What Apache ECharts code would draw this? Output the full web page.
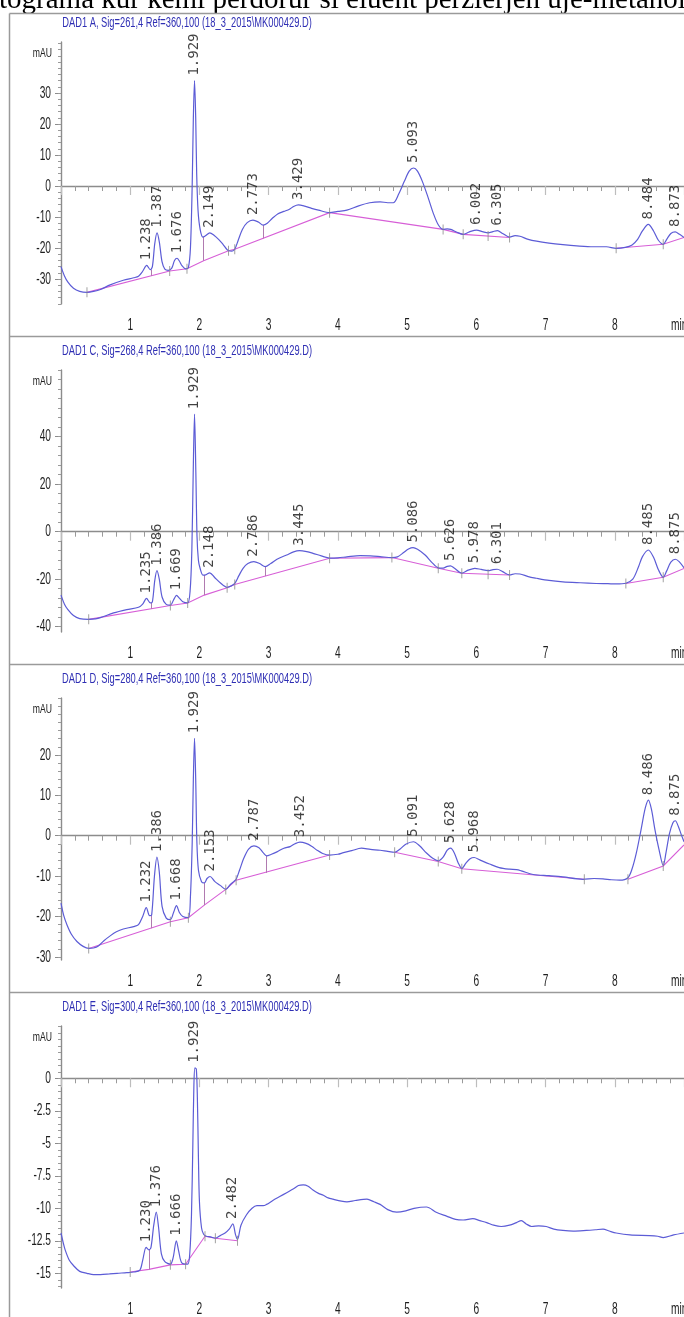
<!DOCTYPE html>
<html><head><meta charset="utf-8">
<script src="https://cdn.jsdelivr.net/npm/echarts@6/dist/echarts.min.js"></script>
<style>html,body{margin:0;padding:0;background:#fff}#c{width:684px;height:1317px}</style>
</head><body><div id="c"></div>
<script>
// ---------------- DATA ----------------
const headerText = 'tograma kur kemi perdorur si eluent perzierjen uje-metanol';
const panelTitles = [
  'DAD1 A, Sig=261,4 Ref=360,100 (18_3_2015\\MK000429.D)',
  'DAD1 C, Sig=268,4 Ref=360,100 (18_3_2015\\MK000429.D)',
  'DAD1 D, Sig=280,4 Ref=360,100 (18_3_2015\\MK000429.D)',
  'DAD1 E, Sig=300,4 Ref=360,100 (18_3_2015\\MK000429.D)'
];
const yUnit = 'mAU';
const xUnit = 'min';
const xTickValues = [1, 2, 3, 4, 5, 6, 7, 8];
const yTicksA = [-30, -20, -10, 0, 10, 20, 30];
const yTicksC = [-40, -20, 0, 20, 40];
const yTicksD = [-30, -20, -10, 0, 10, 20];
const yTicksE = [-15, -12.5, -10, -7.5, -5, -2.5, 0];

// panel A (261 nm)
const signalA = [[0,-26.0],[0.05,-29.0],[0.1,-31.0],[0.18,-33.0],[0.27,-34.0],[0.375,-34.3],[0.47,-34.0],[0.57,-33.4],[0.71,-31.9],[0.9,-30.4],[1.05,-29.6],[1.12,-29.1],[1.18,-27.5],[1.238,-25.6],[1.29,-27.0],[1.32,-26.0],[1.355,-18.5],[1.387,-15.1],[1.42,-18],[1.46,-24.5],[1.50,-26.8],[1.55,-27.2],[1.60,-26.5],[1.64,-24.0],[1.676,-23.3],[1.71,-24.2],[1.75,-25.8],[1.80,-26.7],[1.84,-26.3],[1.87,-20],[1.895,0],[1.912,22],[1.929,34],[1.946,22],[1.96,4],[1.98,-8],[2.01,-14],[2.05,-16.5],[2.09,-16.0],[2.149,-15.1],[2.21,-15.9],[2.28,-17.3],[2.34,-18.8],[2.42,-20.9],[2.47,-21],[2.51,-20.4],[2.56,-17.5],[2.62,-14],[2.69,-11.8],[2.773,-11.0],[2.85,-11.6],[2.92,-12.6],[2.98,-12.0],[3.05,-10.5],[3.13,-9.0],[3.22,-8.2],[3.30,-7.5],[3.36,-6.6],[3.429,-6.1],[3.52,-6.5],[3.62,-7.2],[3.72,-7.8],[3.88,-8.6],[4.0,-8.2],[4.13,-7.8],[4.3,-6.4],[4.46,-5.4],[4.61,-5.1],[4.72,-5.4],[4.80,-5.4],[4.88,-2.5],[4.96,1.5],[5.03,4.8],[5.093,5.8],[5.15,4.8],[5.22,1.5],[5.30,-3.5],[5.38,-8.9],[5.45,-12.5],[5.52,-14.0],[5.58,-13.8],[5.63,-14.0],[5.72,-14.9],[5.81,-15.6],[5.90,-14.8],[6.002,-14.2],[6.10,-14.8],[6.17,-15.1],[6.24,-14.7],[6.305,-14.4],[6.38,-15.3],[6.48,-16.5],[6.56,-16.0],[6.63,-16.2],[6.75,-17.2],[6.87,-17.8],[7.05,-18.4],[7.25,-18.9],[7.45,-19.3],[7.69,-19.6],[7.88,-19.6],[8.02,-20.1],[8.15,-19.8],[8.25,-19.0],[8.33,-17.2],[8.40,-14.5],[8.484,-12.4],[8.56,-14.5],[8.63,-17.5],[8.70,-18.8],[8.75,-17.2],[8.81,-15.3],[8.873,-14.8],[8.93,-15.5],[9.0,-16.6]];
const baselineA = [
  [[0.375,-34.3],[1.57,-27.4],[1.82,-26.7],[2.06,-24.1],[2.42,-20.9],[2.51,-20.4],[3.88,-8.6],[5.52,-14.0],[5.81,-15.6],[6.48,-16.6]],
  [[8.02,-20.1],[8.70,-18.8],[9.0,-16.6]]
];
const boundsA = [[0.375,-34.3],[1.57,-27.4],[1.82,-26.7],[2.42,-20.9],[2.51,-20.4],[3.88,-8.6],[5.52,-14.0],[5.81,-15.6],[6.17,-16.1],[6.48,-16.6],[8.02,-20.1],[8.70,-18.8]];
const dropsA = [[1.30,-29.0,-27.0],[2.06,-24.1,-16.4],[2.92,-16.9,-12.6]];
const peaksA = [[1.238,-25.6],[1.387,-15.1],[1.676,-23.3],[1.929,34],[2.149,-15.1],[2.773,-11.0],[3.429,-6.1],[5.093,5.8],[6.002,-14.2],[6.305,-14.4],[8.484,-12.4],[8.873,-14.8]];

// panel C (268 nm)
const signalC = [[0,-26.7],[0.05,-30.5],[0.1,-32.8],[0.18,-35.3],[0.27,-36.6],[0.4,-36.9],[0.5,-36.7],[0.57,-36.2],[0.76,-34.2],[0.95,-32.8],[1.12,-31.8],[1.18,-30.5],[1.235,-28.1],[1.29,-30.0],[1.32,-29.5],[1.355,-20.5],[1.386,-16.4],[1.42,-20],[1.46,-27.5],[1.52,-30.6],[1.58,-30.9],[1.63,-28.5],[1.669,-26.8],[1.71,-28.0],[1.76,-29.5],[1.83,-30.0],[1.865,-25],[1.89,-8],[1.91,25],[1.929,49.5],[1.948,25],[1.965,-2],[1.985,-12],[2.01,-15.5],[2.05,-18.3],[2.09,-18.2],[2.148,-17.3],[2.22,-19.3],[2.30,-21.5],[2.40,-23.4],[2.46,-22.8],[2.51,-21.8],[2.57,-18.5],[2.63,-15.4],[2.70,-13.4],[2.786,-12.6],[2.87,-13.4],[2.95,-14.7],[3.03,-13.4],[3.12,-11.6],[3.26,-9.8],[3.36,-8.5],[3.445,-8.0],[3.55,-8.4],[3.64,-9.1],[3.76,-10.2],[3.88,-11.1],[4.0,-11.0],[4.13,-10.6],[4.32,-10.1],[4.47,-10.2],[4.61,-10.5],[4.78,-10.9],[4.86,-10.6],[4.95,-8.8],[5.02,-7.3],[5.086,-6.7],[5.15,-7.4],[5.26,-9.8],[5.36,-13.0],[5.45,-15.2],[5.52,-15.3],[5.58,-14.6],[5.626,-14.4],[5.68,-15.3],[5.79,-17.4],[5.88,-16.2],[5.978,-15.4],[6.07,-15.9],[6.17,-16.4],[6.24,-16.0],[6.301,-15.8],[6.38,-16.8],[6.48,-18.2],[6.56,-17.7],[6.63,-17.8],[6.75,-18.9],[6.87,-19.6],[7.05,-20.5],[7.25,-21.1],[7.5,-21.5],[7.73,-21.8],[7.9,-21.9],[8.02,-22.0],[8.16,-21.7],[8.26,-20.0],[8.34,-15],[8.40,-10.5],[8.485,-7.7],[8.56,-10.8],[8.63,-16],[8.70,-19.2],[8.75,-16.5],[8.81,-12.8],[8.875,-11.6],[8.93,-12.6],[9.0,-15.2]];
const baselineC = [
  [[0.4,-36.9],[1.58,-31.1],[1.83,-30.0],[2.07,-26.7],[2.40,-23.6],[2.51,-22.2],[3.88,-11.2],[4.78,-10.9],[5.45,-15.4],[5.79,-17.5],[6.48,-18.2]],
  [[8.16,-21.8],[8.70,-19.2],[9.0,-15.5]]
];
const boundsC = [[0.4,-36.9],[1.58,-31.1],[1.83,-30.0],[2.40,-23.6],[2.51,-22.2],[3.88,-11.2],[4.78,-10.9],[5.45,-15.4],[5.79,-17.5],[6.17,-17.9],[6.48,-18.2],[8.16,-21.8],[8.70,-19.2]];
const dropsC = [[1.30,-32.5,-30.0],[2.07,-26.7,-18.2],[2.95,-18.7,-14.7]];
const peaksC = [[1.235,-28.1],[1.386,-16.4],[1.669,-26.8],[1.929,49.5],[2.148,-17.3],[2.786,-12.6],[3.445,-8.0],[5.086,-6.7],[5.626,-14.4],[5.978,-15.4],[6.301,-15.8],[8.485,-7.7],[8.875,-11.6]];

// panel D (280 nm)
const signalD = [[0,-16.7],[0.04,-19.8],[0.087,-22.1],[0.15,-24.4],[0.23,-26.2],[0.32,-27.4],[0.4,-27.9],[0.47,-27.8],[0.54,-27.3],[0.62,-26.0],[0.71,-24.8],[0.8,-23.8],[0.9,-23.1],[1.05,-22.5],[1.12,-22.0],[1.18,-20.0],[1.232,-17.8],[1.28,-19.8],[1.31,-19.6],[1.35,-10],[1.386,-5.3],[1.42,-9],[1.46,-17.5],[1.52,-20.4],[1.58,-20.8],[1.63,-18.8],[1.668,-17.3],[1.71,-19.0],[1.76,-20.0],[1.84,-20.3],[1.87,-15],[1.895,-2],[1.912,14],[1.929,24.1],[1.946,14],[1.962,-1],[1.985,-8.5],[2.03,-11.4],[2.07,-11.7],[2.11,-10.6],[2.153,-10.1],[2.22,-11.3],[2.30,-12.3],[2.38,-13.3],[2.44,-12.2],[2.50,-11.3],[2.53,-10.8],[2.58,-8.5],[2.64,-5.6],[2.71,-3.3],[2.787,-2.5],[2.86,-3.0],[2.92,-4.2],[2.97,-5.0],[3.04,-4.6],[3.12,-4.0],[3.22,-3.1],[3.31,-2.7],[3.38,-2.0],[3.452,-1.6],[3.54,-1.9],[3.62,-2.6],[3.70,-3.6],[3.78,-4.4],[3.88,-4.8],[4.0,-4.6],[4.08,-4.2],[4.2,-3.7],[4.34,-3.1],[4.47,-3.4],[4.61,-3.6],[4.72,-3.9],[4.82,-4.1],[4.90,-3.3],[4.98,-2.1],[5.091,-1.5],[5.18,-2.5],[5.28,-4.3],[5.37,-5.6],[5.45,-6.2],[5.52,-5.3],[5.58,-3.6],[5.628,-3.1],[5.68,-4.2],[5.74,-6.8],[5.79,-8.1],[5.85,-6.8],[5.91,-5.7],[5.968,-5.4],[6.05,-6.0],[6.19,-7.0],[6.33,-7.9],[6.48,-8.3],[6.58,-8.4],[6.65,-8.7],[6.82,-9.6],[7.05,-9.9],[7.25,-10.2],[7.54,-10.8],[7.7,-10.6],[7.83,-10.7],[7.95,-10.9],[8.07,-11.0],[8.19,-10.4],[8.25,-8.2],[8.31,-4.4],[8.38,1.5],[8.44,6.8],[8.486,8.8],[8.53,6.5],[8.58,1.5],[8.64,-3.5],[8.70,-7.4],[8.74,-4.2],[8.79,0.5],[8.84,3.2],[8.875,3.7],[8.92,2.2],[8.96,0.3],[9.0,-1.5]];
const baselineD = [
  [[0.4,-27.9],[1.58,-21.3],[1.84,-20.3],[2.07,-17.2],[2.38,-13.3],[2.53,-11.0],[3.88,-4.8]],
  [[4.82,-4.1],[5.45,-6.4],[5.79,-8.2],[7.56,-10.8]],
  [[8.19,-10.8],[8.70,-7.5],[9.0,-2.3]]
];
const boundsD = [[0.4,-27.9],[1.58,-21.3],[1.84,-20.3],[2.38,-13.3],[2.53,-11.0],[3.88,-4.8],[4.82,-4.1],[5.45,-6.4],[5.79,-8.2],[7.56,-10.8],[8.19,-10.8],[8.70,-7.5]];
const dropsD = [[1.30,-22.9,-19.7],[2.07,-17.2,-11.7],[2.97,-9.2,-5.0]];
const peaksD = [[1.232,-17.8],[1.386,-5.3],[1.668,-17.3],[1.929,24.1],[2.153,-10.1],[2.787,-2.5],[3.452,-1.6],[5.091,-1.5],[5.628,-3.1],[5.968,-5.4],[8.486,8.8],[8.875,3.7]];

// panel E (300 nm)
const signalE = [[0,-11.9],[0.03,-12.6],[0.06,-13.2],[0.12,-14.0],[0.18,-14.4],[0.27,-14.85],[0.375,-15.0],[0.47,-15.1],[0.57,-15.1],[0.7,-15.05],[0.81,-15.0],[0.95,-14.95],[1.05,-14.9],[1.14,-14.75],[1.18,-14.0],[1.23,-13.0],[1.27,-13.2],[1.30,-13.0],[1.34,-11.3],[1.376,-10.3],[1.41,-11.5],[1.45,-13.5],[1.50,-14.1],[1.58,-14.3],[1.62,-13.8],[1.666,-12.5],[1.70,-13.3],[1.745,-14.2],[1.83,-14.3],[1.86,-13.5],[1.885,-10.5],[1.905,-5],[1.92,-0.5],[1.935,0.8],[1.955,0.7],[1.97,-1.5],[1.985,-6],[2.0,-9.5],[2.03,-11.5],[2.06,-12.0],[2.10,-12.15],[2.16,-12.2],[2.23,-12.3],[2.30,-12.1],[2.37,-11.9],[2.43,-11.6],[2.482,-11.2],[2.52,-12.0],[2.55,-12.4],[2.60,-11.3],[2.68,-10.5],[2.76,-10.0],[2.83,-9.8],[2.92,-9.8],[2.97,-9.7],[3.06,-9.4],[3.16,-9.1],[3.26,-8.8],[3.36,-8.5],[3.43,-8.25],[3.5,-8.2],[3.57,-8.3],[3.64,-8.6],[3.72,-8.85],[3.79,-9.0],[3.86,-9.2],[3.93,-9.3],[4.05,-9.45],[4.13,-9.5],[4.25,-9.4],[4.42,-9.3],[4.52,-9.5],[4.61,-9.7],[4.72,-10.1],[4.85,-10.3],[4.98,-10.2],[5.1,-10.0],[5.28,-9.9],[5.42,-10.3],[5.57,-10.6],[5.7,-10.85],[5.81,-10.9],[5.95,-10.8],[6.05,-10.95],[6.15,-11.1],[6.25,-11.3],[6.36,-11.4],[6.48,-11.3],[6.58,-11.1],[6.65,-10.95],[6.72,-11.2],[6.80,-11.4],[6.9,-11.35],[7.01,-11.4],[7.12,-11.6],[7.25,-11.7],[7.4,-11.75],[7.59,-11.7],[7.72,-11.65],[7.83,-11.6],[7.92,-11.75],[8.02,-11.9],[8.22,-12.05],[8.5,-12.1],[8.62,-12.15],[8.70,-12.25],[8.85,-12.05],[9.0,-11.9]];
const baselineE = [
  [[1.0,-14.9],[1.27,-14.7],[1.58,-14.35],[1.80,-14.3],[2.08,-12.15],[2.23,-12.3],[2.55,-12.5]]
];
const boundsE = [[1.0,-14.9],[1.58,-14.35],[1.80,-14.3],[2.08,-12.15],[2.23,-12.3],[2.55,-12.5]];
const dropsE = [[1.27,-14.7,-13.2]];
const peaksE = [[1.230,-13.0],[1.376,-10.3],[1.666,-12.5],[1.929,0.8],[2.482,-11.2]];

// ---------------- LAYOUT / STYLE ----------------
const panels = [
  {signal: signalA, base: baselineA, bounds: boundsA, drops: dropsA, peaks: peaksA, ticks: yTicksA, min: -38.06, max: 46.45, minor: 2},
  {signal: signalC, base: baselineC, bounds: boundsC, drops: dropsC, peaks: peaksC, ticks: yTicksC, min: -42.23, max: 68.08, minor: 4},
  {signal: signalD, base: baselineD, bounds: boundsD, drops: dropsD, peaks: peaksD, ticks: yTicksD, min: -30.77, max: 34.08, minor: 2},
  {signal: signalE, base: baselineE, bounds: boundsE, drops: dropsE, peaks: peaksE, ticks: yTicksE, min: -16.13, max: 4.02, minor: 0.5}
];
const GRID_LEFT = 61, GRID_H = 262, STEP = 328, TOP0 = 42;
const SANS = '"Liberation Sans",Arial,sans-serif';
const NARROW_SCALE = 0.6;
const AXIS_COLOR = '#8c8c8c';
const SIGNAL_COLOR = '#5c5cd6';
const BASE_COLOR = '#d75fd7';

function minorTicks(min, max, step) {
  const out = [];
  const n0 = Math.ceil(min / step), n1 = Math.floor(max / step);
  for (let n = n0; n <= n1; n++) out.push(+(n * step).toFixed(4));
  return out;
}
function narrowText(x, y, text, size, color, align, scale) {
  return {type: 'text', x: x, y: y, scaleX: scale || NARROW_SCALE, z: 10,
    style: {x: 0, y: 0, text: text, font: size + 'px ' + SANS, fill: color, textAlign: align, textVerticalAlign: 'middle'}};
}

const grids = [], xAxes = [], yAxes = [], series = [], graphics = [];

graphics.push({type: 'text', style: {x: -1, y: 15, text: headerText, font: '29px "Liberation Serif","Times New Roman",serif', fill: '#000', textVerticalAlign: 'bottom'}});
graphics.push({type: 'line', shape: {x1: 9.5, y1: 13.5, x2: 684, y2: 13.5}, style: {stroke: '#9a9a9a', lineWidth: 1.5}});
graphics.push({type: 'line', shape: {x1: 9.5, y1: 13.5, x2: 9.5, y2: 1317}, style: {stroke: '#9a9a9a', lineWidth: 1.5}});

panels.forEach((p, i) => {
  const top = TOP0 + i * STEP;
  const bottom = top + GRID_H;
  grids.push({left: GRID_LEFT, top: top, height: GRID_H, right: 0, containLabel: false});
  xAxes.push({
    type: 'value', gridIndex: i, min: 0, max: 9, interval: 1,
    axisLine: {lineStyle: {color: AXIS_COLOR, width: 1.4}},
    axisTick: {length: 9, lineStyle: {color: '#bdbdbd', width: 1.2}},
    minorTick: {show: true, splitNumber: 5, length: 5, lineStyle: {color: '#9a9a9a', width: 1}},
    axisLabel: {show: false},
    splitLine: {show: false}, minorSplitLine: {show: false}
  });
  yAxes.push({
    type: 'value', gridIndex: i, min: p.min, max: p.max, position: 'left',
    axisLine: {show: true, lineStyle: {color: AXIS_COLOR, width: 1.4}},
    axisTick: {show: true, customValues: p.ticks, length: 6, lineStyle: {color: '#8c8c8c'}},
    axisLabel: {show: false},
    splitLine: {show: false}
  });
  yAxes.push({
    type: 'value', gridIndex: i, min: p.min, max: p.max, position: 'left', offset: 0,
    axisLine: {show: false},
    axisTick: {show: true, customValues: minorTicks(p.min, p.max, p.minor), length: 3, lineStyle: {color: '#9a9a9a'}},
    axisLabel: {show: false}, splitLine: {show: false}
  });
  const yi = 2 * i;
  series.push({
    type: 'lines', coordinateSystem: 'cartesian2d', xAxisIndex: i, yAxisIndex: yi, polyline: true, silent: true, z: 2,
    lineStyle: {color: BASE_COLOR, width: 1.1, opacity: 1},
    data: p.base.map(seg => ({coords: seg}))
  });
  series.push({
    type: 'lines', coordinateSystem: 'cartesian2d', xAxisIndex: i, yAxisIndex: yi, silent: true, z: 2,
    lineStyle: {color: '#b07ab0', width: 1, opacity: 1},
    data: p.drops.map(d => ({coords: [[d[0], d[1]], [d[0], d[2]]]}))
  });
  series.push({
    type: 'line', xAxisIndex: i, yAxisIndex: yi, data: p.signal, showSymbol: false, smooth: 0.3, clip: true, z: 3,
    lineStyle: {color: SIGNAL_COLOR, width: 1.2}
  });
  series.push({
    type: 'scatter', xAxisIndex: i, yAxisIndex: yi, data: p.bounds, symbol: 'rect', symbolSize: [1, 10], z: 4,
    itemStyle: {color: '#8a8a8a'}, silent: true
  });
  series.push({
    type: 'scatter', xAxisIndex: i, yAxisIndex: yi, data: p.peaks, symbolSize: 0, z: 5, silent: true,
    label: {show: true, position: 'top', distance: 5, rotate: 90, align: 'left', verticalAlign: 'middle',
      formatter: d => d.value[0].toFixed(3), fontSize: 14, fontFamily: '"DejaVu Sans Mono",monospace', color: '#111'}
  });
  graphics.push(narrowText(187, top - 19, panelTitles[i], 14, '#2f2fb4', 'center', 0.665));
  graphics.push(narrowText(52, top + 12, yUnit, 12, '#222', 'right', 0.72));
  graphics.push(narrowText(671, bottom + 21, xUnit, 17, '#222', 'left'));
  if (i < 3) graphics.push({type: 'line', shape: {x1: 9.5, y1: bottom + 32.5, x2: 684, y2: bottom + 32.5}, style: {stroke: '#9a9a9a', lineWidth: 1.5}});
});

const chart = echarts.init(document.getElementById('c'), null, {renderer: 'canvas'});
chart.setOption({animation: false, backgroundColor: '#fff', grid: grids, xAxis: xAxes, yAxis: yAxes, series: series, graphic: graphics});

// axis tick labels placed through the axes' own scales
panels.forEach((p, i) => {
  const top = TOP0 + i * STEP;
  const bottom = top + GRID_H;
  xTickValues.forEach(v => {
    const px = chart.convertToPixel({xAxisIndex: i}, v);
    graphics.push(narrowText(px, bottom + 21, String(v), 17, '#1e1e1e', 'center'));
  });
  p.ticks.forEach(v => {
    const py = chart.convertToPixel({yAxisIndex: 2 * i}, v);
    graphics.push(narrowText(GRID_LEFT - 10, py, String(v), 17, '#1e1e1e', 'right'));
  });
});
chart.setOption({graphic: graphics});
</script></body></html>
